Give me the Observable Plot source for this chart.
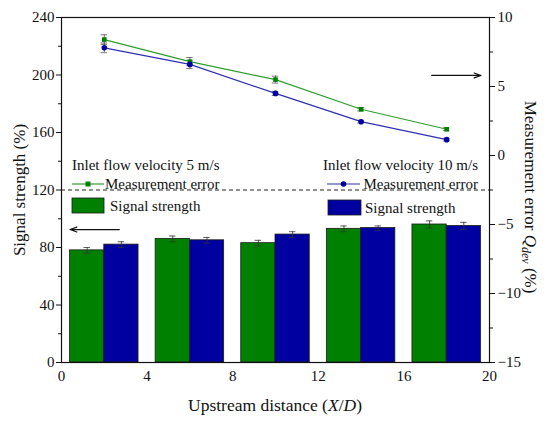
<!DOCTYPE html>
<html>
<head>
<meta charset="utf-8">
<script src="https://cdn.jsdelivr.net/npm/d3@7"></script>
<script src="https://cdn.jsdelivr.net/npm/@observablehq/plot@0.6"></script>
<style>
  html, body { margin: 0; padding: 0; background: #fff; }
  #chart svg { display: block; }
  #chart svg, #chart svg text, #chart svg g { font-family: 'Liberation Serif', 'Times New Roman', serif !important; }
</style>
</head>
<body>
<div id="chart"></div>
<script>
// ---- data ----
const distances = [2, 6, 10, 14, 18];
const signal5 = [78, 86, 83, 93, 96];
const signal5Err = [2, 2, 2, 2, 2.5];
const signal10 = [82, 85, 89, 93.5, 95];
const signal10Err = [2, 2, 2, 1.5, 2.5];
const error5 = [8.4, 6.8, 5.5, 3.35, 1.9];
const error5Err = [0.35, 0.3, 0.25, 0.12, 0.1];
const error10 = [7.8, 6.6, 4.5, 2.45, 1.15];
const error10Err = [0.35, 0.3, 0.15, 0.1, 0.1];
const leftTicks = [0, 40, 80, 120, 160, 200, 240];
const leftMinor = [20, 60, 100, 140, 180, 220];
const rightTicks = [-15, -10, -5, 0, 5, 10];
const rightMinor = [-12.5, -7.5, -2.5, 2.5, 7.5];
const xTicks = [0, 4, 8, 12, 16, 20];
const thresholdSignal = 120;
const arrowLeft = {x1: 2.7, x2: 0.4, y: 92.5};
const arrowRight = {x1: 17.3, x2: 19.6, yRight: 5.8};

// ---- helpers ----
const leftMax = 240, rightMin = -15, rightMax = 10;
const toLeft = v => (v - rightMin) * leftMax / (rightMax - rightMin);
const fromLeft = v => v * (rightMax - rightMin) / leftMax + rightMin;
const fmtMinus = v => (v < 0 ? "\u2212" + Math.abs(v) : String(v));

const FONT = "'Liberation Serif', 'Times New Roman', serif";
const GREEN = "#008000", BLUE = "#0000a0";
const GREEN_LINE = "#2f9e2f", BLUE_LINE = "#3030b0";
const barW = 1.6, cap = 0.15;

const bars = distances.flatMap((d, i) => [
  {x1: d - barW, x2: d, v: signal5[i], e: signal5Err[i], s: "5"},
  {x1: d, x2: d + barW, v: signal10[i], e: signal10Err[i], s: "10"}
]);
bars.forEach(b => b.c = (b.x1 + b.x2) / 2);
const lines = distances.flatMap((d, i) => [
  {x: d, v: toLeft(error5[i]), lo: toLeft(error5[i] - error5Err[i]), hi: toLeft(error5[i] + error5Err[i]), s: "5"},
  {x: d, v: toLeft(error10[i]), lo: toLeft(error10[i] - error10Err[i]), hi: toLeft(error10[i] + error10Err[i]), s: "10"}
]);
const l5 = lines.filter(d => d.s === "5"), l10 = lines.filter(d => d.s === "10");

const chart = Plot.plot({
  width: 550,
  height: 425,
  marginLeft: 61,
  marginRight: 61,
  marginTop: 17,
  marginBottom: 63,
  style: {fontFamily: FONT, fontSize: "15px", color: "#111", background: "#fff"},
  x: {domain: [0, 20], axis: null},
  y: {domain: [0, leftMax], axis: null},
  marks: [
    Plot.rect(bars, {x1: "x1", x2: "x2", y1: 0, y2: "v", fill: d => d.s === "5" ? GREEN : BLUE, stroke: "#1a1a1a", strokeWidth: 0.8}),
    Plot.ruleX(bars, {x: "c", y1: d => d.v - d.e, y2: d => d.v + d.e, stroke: "#333", strokeWidth: 0.8}),
    Plot.ruleY(bars, {y: d => d.v - d.e, x1: d => d.c - cap, x2: d => d.c + cap, stroke: "#333", strokeWidth: 0.8}),
    Plot.ruleY(bars, {y: d => d.v + d.e, x1: d => d.c - cap, x2: d => d.c + cap, stroke: "#333", strokeWidth: 0.8}),
    Plot.ruleY([thresholdSignal], {stroke: "#222", strokeDasharray: "4,3", strokeWidth: 1}),
    Plot.ruleX(lines, {x: "x", y1: "lo", y2: "hi", stroke: "#555", strokeWidth: 0.8}),
    Plot.ruleY(lines, {y: "lo", x1: d => d.x - cap, x2: d => d.x + cap, stroke: "#555", strokeWidth: 0.8}),
    Plot.ruleY(lines, {y: "hi", x1: d => d.x - cap, x2: d => d.x + cap, stroke: "#555", strokeWidth: 0.8}),
    Plot.line(l5, {x: "x", y: "v", stroke: GREEN_LINE, strokeWidth: 1.2}),
    Plot.line(l10, {x: "x", y: "v", stroke: BLUE_LINE, strokeWidth: 1.2}),
    Plot.dot(l5, {x: "x", y: "v", symbol: "square", r: 2.6, fill: GREEN, stroke: "none"}),
    Plot.dot(l10, {x: "x", y: "v", symbol: "circle", r: 2.8, fill: BLUE, stroke: "none"}),
    Plot.arrow([arrowLeft], {x1: "x1", x2: "x2", y1: "y", y2: "y", stroke: "#111", strokeWidth: 1.2, headLength: 9, headAngle: 40}),
    Plot.arrow([arrowRight], {x1: "x1", x2: "x2", y1: d => toLeft(d.yRight), y2: d => toLeft(d.yRight), stroke: "#111", strokeWidth: 1.2, headLength: 9, headAngle: 40}),
    Plot.frame({stroke: "#111", strokeWidth: 1.2}),
    Plot.axisY({anchor: "left", ticks: leftTicks, tickSize: 5, tickPadding: 2, label: null, fontFamily: FONT, fontSize: 15, tickFormat: d => d}),
    Plot.axisY({anchor: "left", ticks: leftMinor, tickSize: 3, label: null, tickFormat: () => ""}),
    Plot.axisY({anchor: "right", ticks: rightTicks.map(toLeft), tickSize: 5, tickPadding: 3, label: null, fontFamily: FONT, fontSize: 15, tickFormat: v => fmtMinus(Math.round(fromLeft(v)))}),
    Plot.axisY({anchor: "right", ticks: rightMinor.map(toLeft), tickSize: 3, label: null, tickFormat: () => ""}),
    Plot.axisX({ticks: xTicks, tickSize: 0, tickPadding: 8, label: null, fontFamily: FONT, fontSize: 15})
  ]
});
document.getElementById("chart").appendChild(chart);

// ---- titles and legends ----
const svg = d3.select(chart);
const g = svg.append("g").attr("font-family", FONT).attr("fill", "#111").attr("text-anchor", "start");

g.append("text").attr("transform", "translate(21,190) rotate(-90)")
  .attr("text-anchor", "middle").attr("dominant-baseline", "middle")
  .attr("font-size", 17).text("Signal strength (%)");

const rt = g.append("text").attr("transform", "translate(529,197) rotate(90)")
  .attr("text-anchor", "middle").attr("dominant-baseline", "middle").attr("font-size", 17);
rt.append("tspan").text("Measurement error ");
rt.append("tspan").attr("font-style", "italic").text("Q");
rt.append("tspan").attr("font-style", "italic").attr("font-size", 12).attr("dy", 4).text("dev");
rt.append("tspan").attr("dy", -4).text(" (%)");

const xt = g.append("text").attr("x", 275).attr("y", 411).attr("text-anchor", "middle").attr("font-size", 17.5);
xt.append("tspan").text("Upstream distance (");
xt.append("tspan").attr("font-style", "italic").text("X");
xt.append("tspan").text("/");
xt.append("tspan").attr("font-style", "italic").text("D");
xt.append("tspan").text(")");

// left legend
g.append("text").attr("x", 72).attr("y", 170).attr("text-anchor", "start").attr("font-size", 15).text("Inlet flow velocity 5 m/s");
g.append("line").attr("x1", 72).attr("x2", 104).attr("y1", 184).attr("y2", 184).attr("stroke", GREEN_LINE).attr("stroke-width", 1.2);
g.append("rect").attr("x", 85.5).attr("y", 181.5).attr("width", 5).attr("height", 5).attr("fill", GREEN);
g.append("text").attr("x", 105).attr("y", 189).attr("text-anchor", "start").attr("font-size", 15).text("Measurement error");
g.append("rect").attr("x", 72).attr("y", 198).attr("width", 32).attr("height", 15).attr("fill", GREEN).attr("stroke", "#1a1a1a").attr("stroke-width", 0.8);
g.append("text").attr("x", 110).attr("y", 211).attr("text-anchor", "start").attr("font-size", 15).text("Signal strength");

// right legend
g.append("text").attr("x", 478).attr("y", 170).attr("text-anchor", "end").attr("font-size", 15).text("Inlet flow velocity 10 m/s");
g.append("line").attr("x1", 327).attr("x2", 360).attr("y1", 184).attr("y2", 184).attr("stroke", BLUE_LINE).attr("stroke-width", 1.2);
g.append("circle").attr("cx", 343.5).attr("cy", 184).attr("r", 2.8).attr("fill", BLUE);
g.append("text").attr("x", 478).attr("y", 189).attr("text-anchor", "end").attr("font-size", 15).text("Measurement error");
g.append("rect").attr("x", 328).attr("y", 200).attr("width", 33).attr("height", 15).attr("fill", BLUE).attr("stroke", "#1a1a1a").attr("stroke-width", 0.8);
g.append("text").attr("x", 365).attr("y", 213).attr("text-anchor", "start").attr("font-size", 15).text("Signal strength");

// fill arrowheads as solid triangles like the reference
svg.selectAll("g[aria-label='arrow'] path").attr("fill", "none");
</script>
</body>
</html>
